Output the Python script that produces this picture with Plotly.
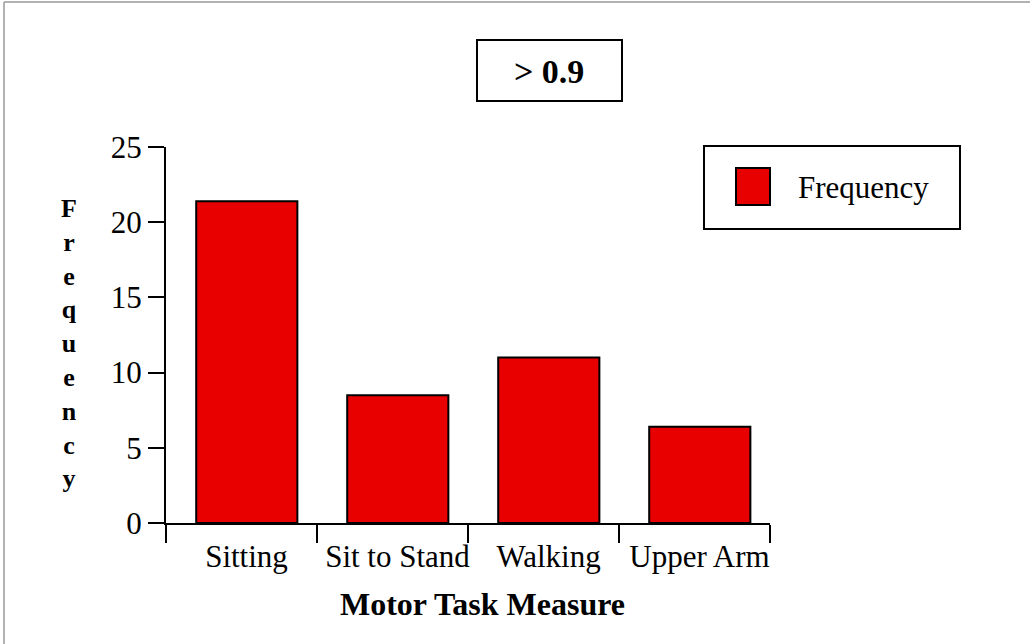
import plotly.graph_objects as go

categories = ["Sitting", "Sit to Stand", "Walking", "Upper Arm"]
frequency = [21.4, 8.5, 11.0, 6.4]
y_ticks = [0, 5, 10, 15, 20, 25]

FONT = "Liberation Serif, Times New Roman, serif"
RED = "#E80000"

fig = go.Figure()
fig.add_trace(go.Bar(
    x=categories, y=frequency, name="Frequency",
    marker=dict(color=RED, line=dict(color="black", width=2)),
    width=0.67, offset=-0.30, showlegend=False,
))

fig.update_layout(
    width=1030, height=644,
    margin=dict(l=166, r=260, t=147, b=121, autoexpand=False),
    paper_bgcolor="white", plot_bgcolor="white",
    font=dict(family=FONT, color="black", size=31),
    bargap=0.33,
)
fig.update_xaxes(
    type="category", tickson="boundaries", tickangle=0, automargin=False,
    ticklabelstandoff=5, ticklabelshift=5,
    showline=True, linecolor="black", linewidth=2,
    ticks="outside", ticklen=18, tickwidth=1.5, tickcolor="black",
    tickfont=dict(size=31), showgrid=False, zeroline=False,
)
fig.update_yaxes(
    range=[0, 25], tickvals=y_ticks, automargin=False,
    showline=True, linecolor="black", linewidth=2,
    ticks="outside", ticklen=16, tickwidth=1.5, tickcolor="black",
    tickfont=dict(size=31), showgrid=False, zeroline=False,
)

def px(x):
    return (x - 166) / 604

def py(y):
    return (523 - y) / 376

shapes = [
    # outer frame (left and top edges)
    dict(type="line", xref="paper", yref="paper", x0=px(4), x1=px(4), y0=py(2), y1=py(644),
         line=dict(color="#999999", width=1.5)),
    dict(type="line", xref="paper", yref="paper", x0=px(4), x1=px(1030), y0=py(2), y1=py(2),
         line=dict(color="#999999", width=1.5)),
    # title box
    dict(type="rect", xref="paper", yref="paper", x0=px(477), x1=px(622), y0=py(101), y1=py(40),
         line=dict(color="black", width=2), fillcolor="white"),
    # legend box
    dict(type="rect", xref="paper", yref="paper", x0=px(704), x1=px(960), y0=py(229), y1=py(146),
         line=dict(color="black", width=2), fillcolor="white"),
    dict(type="rect", xref="paper", yref="paper", x0=px(736), x1=px(770), y0=py(205), y1=py(168),
         line=dict(color="black", width=2), fillcolor=RED),
]
fig.update_layout(shapes=shapes)

fig.add_annotation(xref="paper", yref="paper", x=px(549), y=py(72),
                   text="<b>&gt; 0.9</b>", showarrow=False, font=dict(size=34),
                   xanchor="center", yanchor="middle")
fig.add_annotation(xref="paper", yref="paper", x=px(796), y=py(187),
                   text="Frequency", showarrow=False, font=dict(size=31),
                   xanchor="left", yanchor="middle")
fig.add_annotation(xref="paper", yref="paper", x=px(69), y=py(343),
                   text="<b>" + "<br>".join(list("Frequency")) + "</b>", showarrow=False,
                   font=dict(size=26), xanchor="center", yanchor="middle", align="center")
fig.add_annotation(xref="paper", yref="paper", x=px(482), y=py(604),
                   text="<b>Motor Task Measure</b>", showarrow=False, font=dict(size=32),
                   xanchor="center", yanchor="middle")

fig.write_html("out.html", config={"displayModeBar": False},
               post_script="document.body.style.margin='0';")
